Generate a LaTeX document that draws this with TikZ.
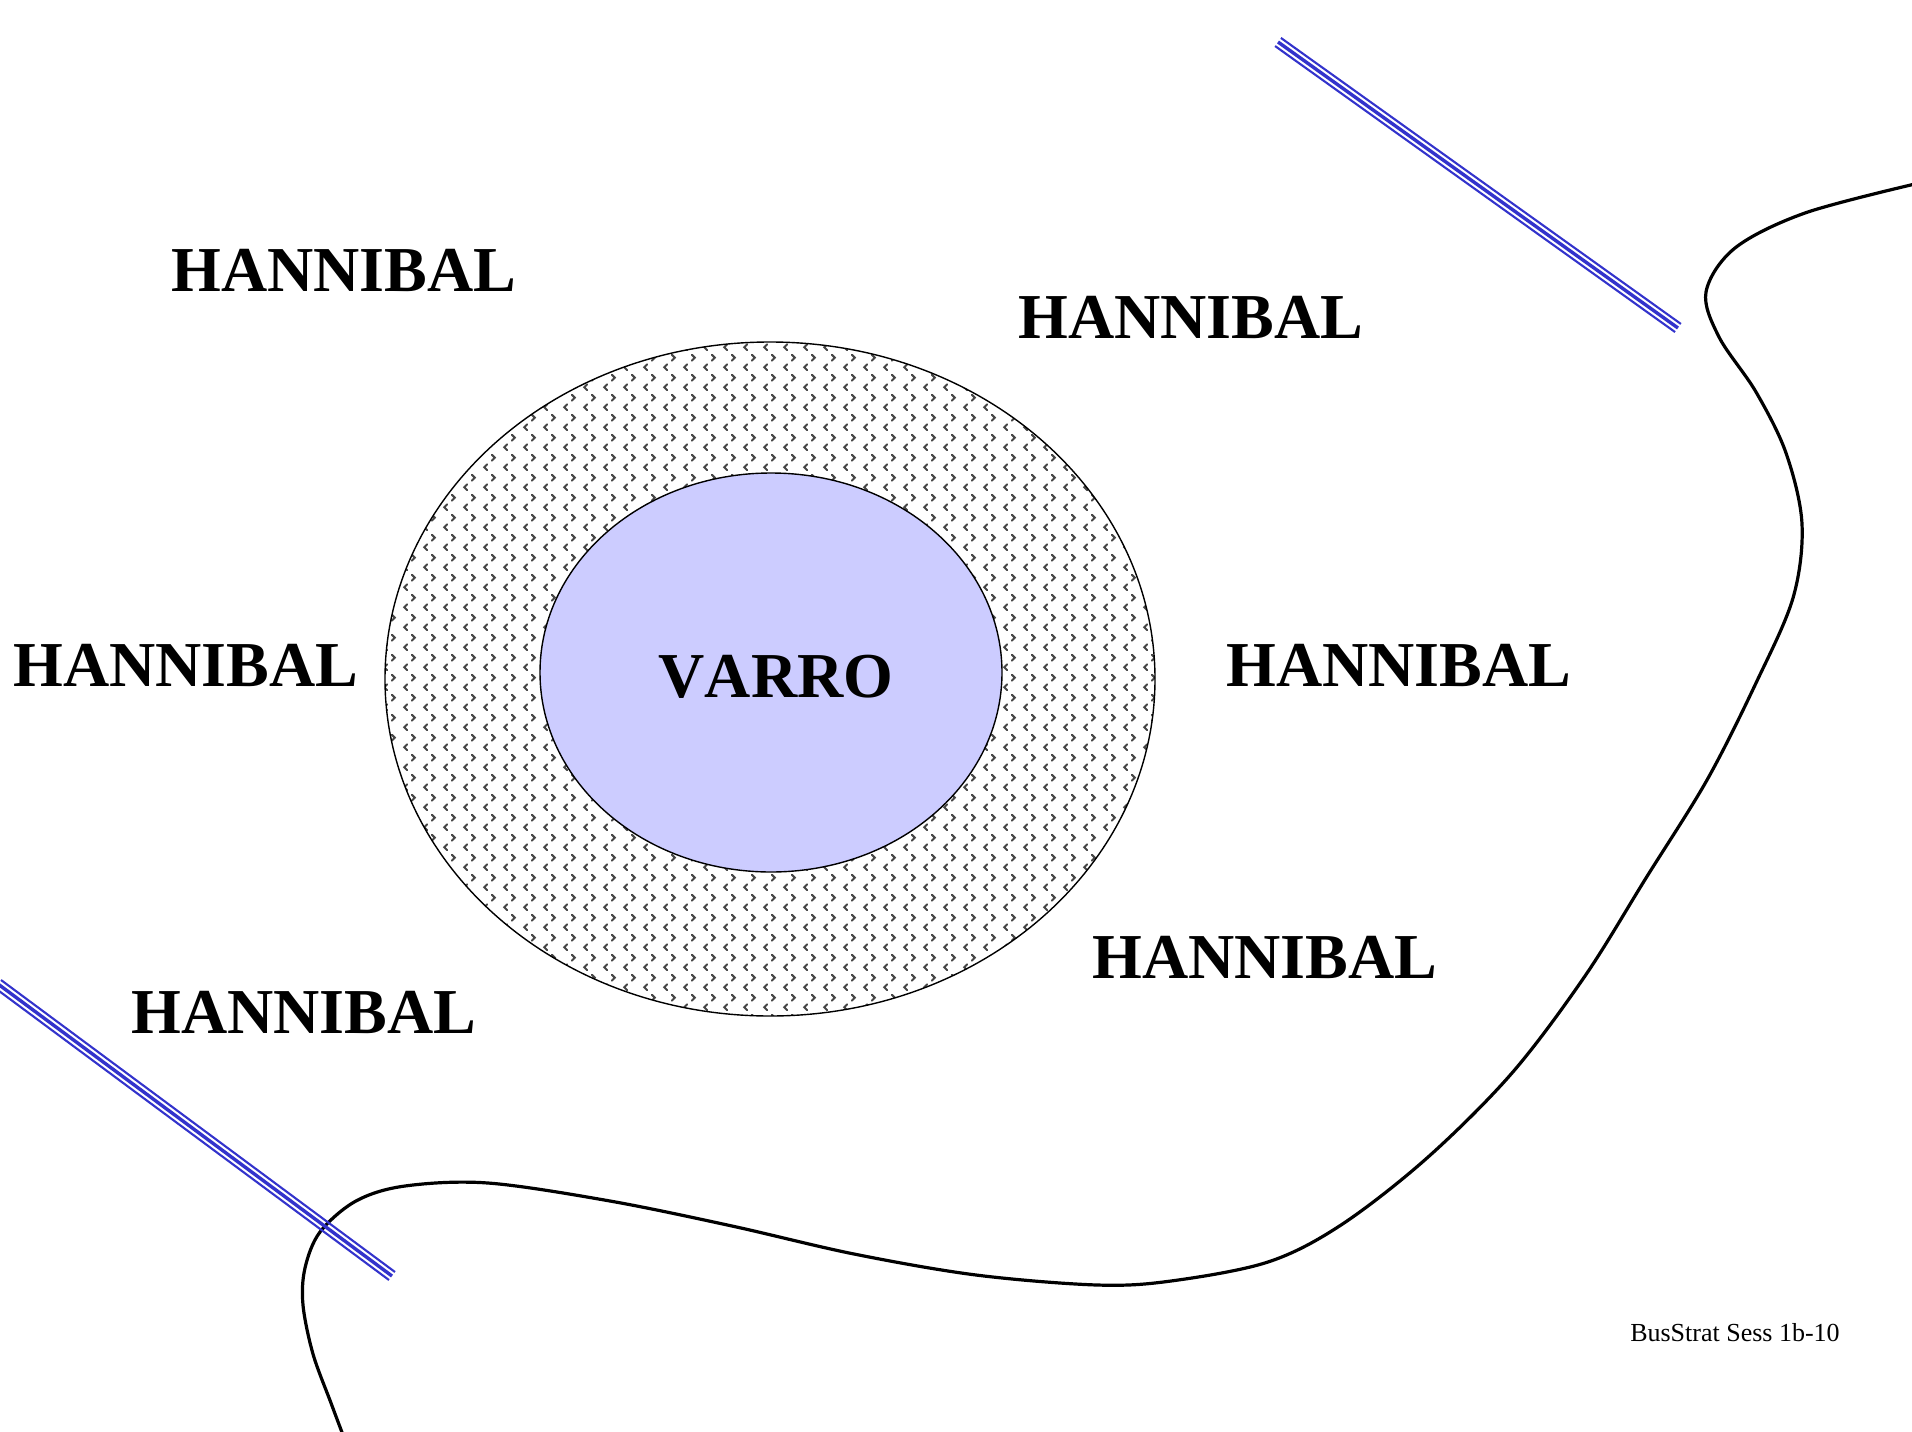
\documentclass[tikz,border=0pt]{standalone}
\usepackage{fontspec}
\setmainfont{Liberation Serif}
\newfontfamily\armyfont{Liberation Serif}[Kerning=Off]
\usetikzlibrary{patterns,calc}

% small alternating chevrons used to shade the outer ring
\pgfdeclarepatternformonly{chevrons}{\pgfpoint{0pt}{0pt}}{\pgfpoint{20pt}{20pt}}{\pgfpoint{20pt}{20pt}}{%
  \pgfsetlinewidth{2.1pt}%
  \pgfsetroundcap
  \pgfpathmoveto{\pgfpoint{7.5pt}{8pt}}%
  \pgfpathlineto{\pgfpoint{4.5pt}{5pt}}%
  \pgfpathlineto{\pgfpoint{7.5pt}{2pt}}%
  \pgfpathmoveto{\pgfpoint{12.5pt}{18pt}}%
  \pgfpathlineto{\pgfpoint{15.5pt}{15pt}}%
  \pgfpathlineto{\pgfpoint{12.5pt}{12pt}}%
  \pgfusepath{stroke}%
}

\definecolor{riverblue}{HTML}{3333CC}
\definecolor{varrofill}{HTML}{CCCCFF}

\tikzset{
  army/.style={font=\armyfont\bfseries\fontsize{64}{64}\selectfont, inner sep=0pt},
  footer/.style={font=\fontsize{26}{26}\selectfont, inner sep=0pt},
  ring/.style={draw=black, line width=1.4pt, pattern=chevrons, pattern color=black!72},
  core/.style={draw=black, line width=1.4pt, fill=varrofill},
  shore/.style={draw=black, line width=3.2pt},
  riveredge/.style={draw=riverblue, line width=2.1pt},
  rivermid/.style={draw=riverblue, line width=3.4pt},
}

\begin{document}
\begin{tikzpicture}[x=1pt, y=-1pt]
\useasboundingbox (0,0) rectangle (1912,1432);

% coastline
\draw[shore] plot[smooth, tension=0.55] coordinates {
  (1915,184) (1805,213) (1735,248) (1706,292) (1719,337) (1756,392)
  (1786,453) (1802,524) (1793,598) (1756,683) (1707,780) (1646,878)
  (1585,976) (1512,1073) (1427,1158) (1341,1225) (1268,1262) (1171,1281)
  (1097,1285) (976,1275) (854,1254) (732,1226) (610,1201) (488,1183)
  (405,1186) (356,1201) (320,1232) (305,1268) (303,1305) (313,1354)
  (331,1403) (343,1435)};

% rivers: three parallel strokes each
\coordinate (ra) at (1278,42);
\coordinate (rb) at (1678,328);
\coordinate (rc) at (-2,984);
\coordinate (rd) at (392,1276);
\foreach \p/\q in {ra/rb, rc/rd}{
  \draw[rivermid] (\p) -- (\q);
  \draw[riveredge] ($(\p)!5pt!90:(\q)$) -- ($(\q)!5pt!-90:(\p)$);
  \draw[riveredge] ($(\p)!5pt!-90:(\q)$) -- ($(\q)!5pt!90:(\p)$);
}

% Roman formation
\path[ring] (770,679) ellipse [x radius=385pt, y radius=337pt];
\path[core] (771,672.5) ellipse [x radius=231pt, y radius=199.5pt];
\node[army] (varro) at (776,677) {VARRO};

% Carthaginian positions
\node[army] (h1) at (344,270) {HANNIBAL};
\node[army] (h2) at (1191,317) {HANNIBAL};
\node[army] (h3) at (186,665) {HANNIBAL};
\node[army] (h4) at (1399,665) {HANNIBAL};
\node[army] (h5) at (1265,957) {HANNIBAL};
\node[army] (h6) at (304,1012) {HANNIBAL};

\node[footer] (ft) at (1735,1333) {BusStrat Sess 1b-10};
\end{tikzpicture}
\end{document}
